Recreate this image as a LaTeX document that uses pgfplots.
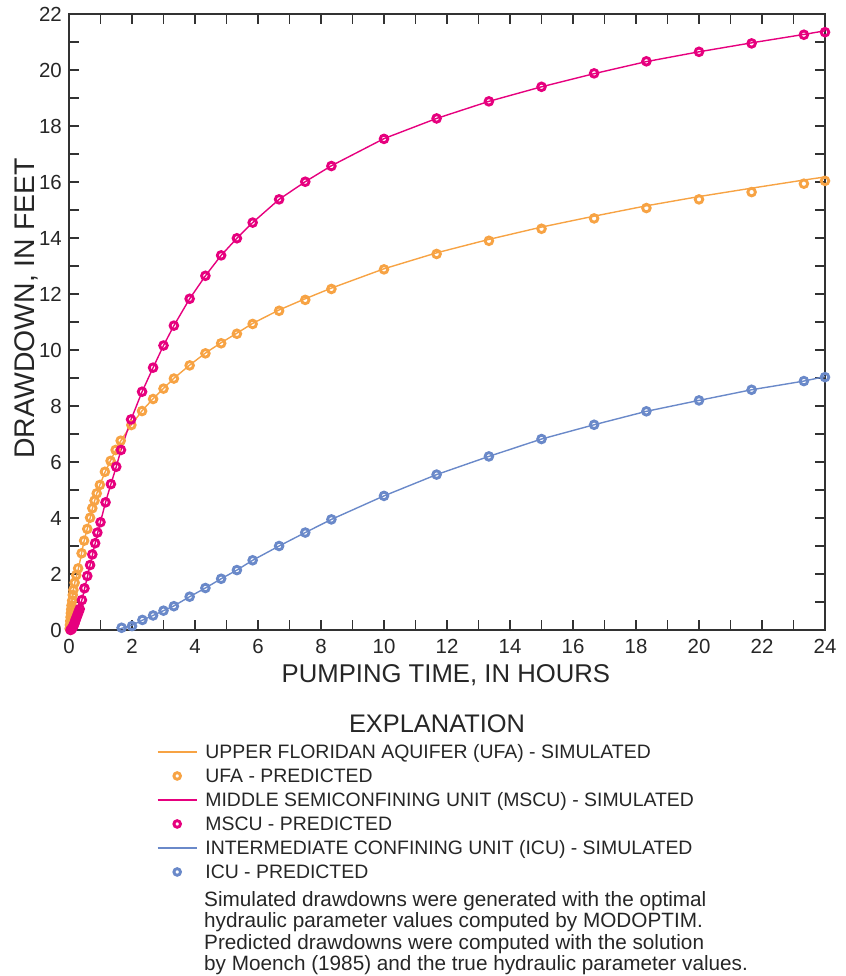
\documentclass[border=0pt]{standalone}
\usepackage{pgfplots}
\pgfplotsset{compat=1.18}
\usepackage{fontspec}
\setmainfont{Liberation Sans}
\definecolor{ufa}{RGB}{247,163,68}
\definecolor{mscu}{RGB}{230,0,126}
\definecolor{icu}{RGB}{106,137,201}
\definecolor{axisgray}{RGB}{50,50,50}
\begin{document}
\begin{tikzpicture}
\begin{axis}[
  width=756bp, height=616bp, scale only axis,
  xmin=0, xmax=24, ymin=0, ymax=22,
  xtick={0,2,...,24}, ytick={0,2,...,22},
  minor x tick num=1, minor y tick num=1,
  tick align=inside, xtick pos=both, ytick pos=both,
  major tick length=10bp, minor tick length=10bp,
  axis line style={line width=1.5bp, color=axisgray},
  tick style={line width=1.4bp, color=axisgray},
  /pgf/number format/assume math mode=true,
  ticklabel style={font=\fontsize{20.5}{20.5}\selectfont, color=black!85},
  xticklabel style={inner sep=0pt, yshift=-9bp},
  yticklabel style={inner sep=0pt, xshift=-7bp},
  xlabel={PUMPING TIME, IN HOURS},
  ylabel={DRAWDOWN, IN FEET},
  xlabel style={at={(axis description cs:0.4985,-0.086)}, anchor=base, font=\fontsize{25.8}{25.8}\selectfont, color=black!85},
  ylabel style={at={(axis description cs:-0.045,0.522)}, anchor=base, font=\fontsize{28.5}{28.5}\selectfont, color=black!85},
  legend style={at={(axis description cs:0.1164,-0.1834)}, anchor=north west,
    draw=none, fill=none, inner sep=0pt, outer sep=0pt,
    nodes={inner sep=0pt, text height=16bp, text depth=2bp, text=black!85},
    row sep=6bp, font=\fontsize{19.5}{20}\selectfont,
    /tikz/every odd column/.append style={column sep=8bp}},
  legend cell align=left,
  linestyle/.style={line width=1.4bp, legend image code/.code={\draw[##1] (0bp,0bp) -- (39bp,0bp);}},
  markstyle/.style={only marks, mark=o, mark size=3.8bp, mark options={line width=2.9bp},
    legend image code/.code={\draw[##1, mark size=3.3bp] plot coordinates {(19.5bp,0bp)};}},
]
% UFA simulated
\addplot[linestyle, ufa] table {
0 0
0.02 0.1
0.05 0.48
0.1 1.05
0.14 1.43
0.19 1.72
0.26 2.02
0.33 2.35
0.4 2.75
0.48 3.18
0.58 3.62
0.67 4.0
0.74 4.33
0.81 4.6
0.88 4.87
0.98 5.18
1.14 5.63
1.32 6.05
1.48 6.42
1.64 6.75
1.98 7.33
2.32 7.83
2.67 8.26
3.0 8.63
3.33 8.99
3.83 9.46
4.33 9.89
4.83 10.26
5.33 10.6
5.83 10.95
6.67 11.43
7.5 11.83
8.33 12.21
10 12.9
11.67 13.47
13.33 13.95
15 14.39
16.67 14.78
18.33 15.15
20 15.48
21.67 15.78
23.33 16.07
24 16.18
};
\addlegendentry{UPPER FLORIDAN AQUIFER (UFA) - SIMULATED}
\addplot[markstyle, ufa] table {
0.02 0.05
0.03 0.18
0.04 0.32
0.05 0.46
0.06 0.6
0.07 0.74
0.08 0.88
0.10 1.05
0.12 1.25
0.14 1.43
0.18 1.69
0.23 1.96
0.29 2.2
0.40 2.74
0.48 3.19
0.58 3.61
0.67 4.01
0.74 4.35
0.81 4.62
0.88 4.88
0.98 5.18
1.14 5.65
1.32 6.04
1.48 6.43
1.64 6.76
1.98 7.32
2.32 7.82
2.67 8.25
3.0 8.62
3.33 8.98
3.83 9.45
4.33 9.88
4.83 10.24
5.33 10.58
5.83 10.93
6.67 11.40
7.5 11.79
8.33 12.18
10 12.88
11.67 13.43
13.33 13.9
15 14.33
16.67 14.7
18.33 15.07
20 15.38
21.67 15.64
23.33 15.94
24 16.04
};
\addlegendentry{UFA - PREDICTED}
% MSCU simulated
\addplot[linestyle, mscu] table {
0.03 0
0.1 0.06
0.2 0.33
0.3 0.64
0.4 1.03
0.5 1.5
0.6 1.98
0.7 2.47
0.8 2.95
0.9 3.43
1.0 3.86
1.16 4.56
1.33 5.21
1.5 5.83
1.65 6.43
1.97 7.52
2.32 8.51
2.67 9.37
3.0 10.16
3.33 10.87
3.83 11.83
4.33 12.65
4.83 13.38
5.33 13.99
5.83 14.55
6.67 15.38
7.5 16.01
8.33 16.58
10 17.55
11.67 18.27
13.33 18.88
15 19.4
16.67 19.87
18.33 20.3
20 20.65
21.67 20.97
23.33 21.27
24 21.4
};
\addlegendentry{MIDDLE SEMICONFINING UNIT (MSCU) - SIMULATED}
\addplot[markstyle, mscu] table {
0.05 0.0
0.08 0.03
0.10 0.06
0.12 0.10
0.14 0.15
0.16 0.20
0.18 0.26
0.20 0.33
0.22 0.40
0.25 0.48
0.28 0.57
0.31 0.66
0.34 0.75
0.41 1.07
0.49 1.49
0.58 1.93
0.67 2.32
0.74 2.7
0.83 3.1
0.90 3.48
1.0 3.85
1.16 4.56
1.33 5.21
1.5 5.83
1.65 6.43
1.97 7.52
2.32 8.51
2.67 9.37
3.0 10.16
3.33 10.87
3.83 11.83
4.33 12.65
4.83 13.38
5.33 13.99
5.83 14.55
6.67 15.38
7.5 16.01
8.33 16.57
10 17.54
11.67 18.27
13.33 18.88
15 19.4
16.67 19.88
18.33 20.31
20 20.65
21.67 20.95
23.33 21.26
24 21.35
};
\addlegendentry{MSCU - PREDICTED}
% ICU simulated
\addplot[linestyle, icu] table {
1.55 0.0
1.67 0.06
2.0 0.17
2.33 0.35
2.67 0.52
3.0 0.69
3.33 0.86
3.83 1.19
4.33 1.5
4.83 1.83
5.33 2.14
5.83 2.49
6.67 3.0
7.5 3.48
8.33 3.95
10 4.79
11.67 5.55
13.33 6.2
15 6.82
16.67 7.33
18.33 7.81
20 8.2
21.67 8.58
23.33 8.89
24 9.05
};
\addlegendentry{INTERMEDIATE CONFINING UNIT (ICU) - SIMULATED}
\addplot[markstyle, icu] table {
1.67 0.08
2.0 0.14
2.33 0.36
2.67 0.52
3.0 0.69
3.33 0.85
3.83 1.19
4.33 1.5
4.83 1.83
5.33 2.14
5.83 2.49
6.67 3.0
7.5 3.48
8.33 3.95
10 4.79
11.67 5.55
13.33 6.2
15 6.82
16.67 7.33
18.33 7.81
20 8.2
21.67 8.58
23.33 8.89
24 9.03
};
\addlegendentry{ICU - PREDICTED}
\end{axis}
\node[anchor=base, inner sep=0pt, font=\fontsize{25.5}{25.5}\selectfont, text=black!85] at ([shift={(368bp,-102bp)}]current axis.south west) {EXPLANATION};
\begin{scope}[every node/.style={anchor=base west, inner sep=0pt, font=\fontsize{20.8}{20.8}\selectfont, text=black!85}]
\node at ([shift={(135bp,-276bp)}]current axis.south west) {Simulated drawdowns were generated with the optimal};
\node at ([shift={(135bp,-297.5bp)}]current axis.south west) {hydraulic parameter values computed by MODOPTIM.};
\node at ([shift={(135bp,-319bp)}]current axis.south west) {Predicted drawdowns were computed with the solution};
\node at ([shift={(135bp,-340.5bp)}]current axis.south west) {by Moench (1985) and the true hydraulic parameter values.};
\end{scope}
\pgfresetboundingbox
\path ([shift={(-69bp,-346bp)}]current axis.south west) rectangle ([shift={(777bp,630bp)}]current axis.south west);
\end{tikzpicture}
\end{document}
